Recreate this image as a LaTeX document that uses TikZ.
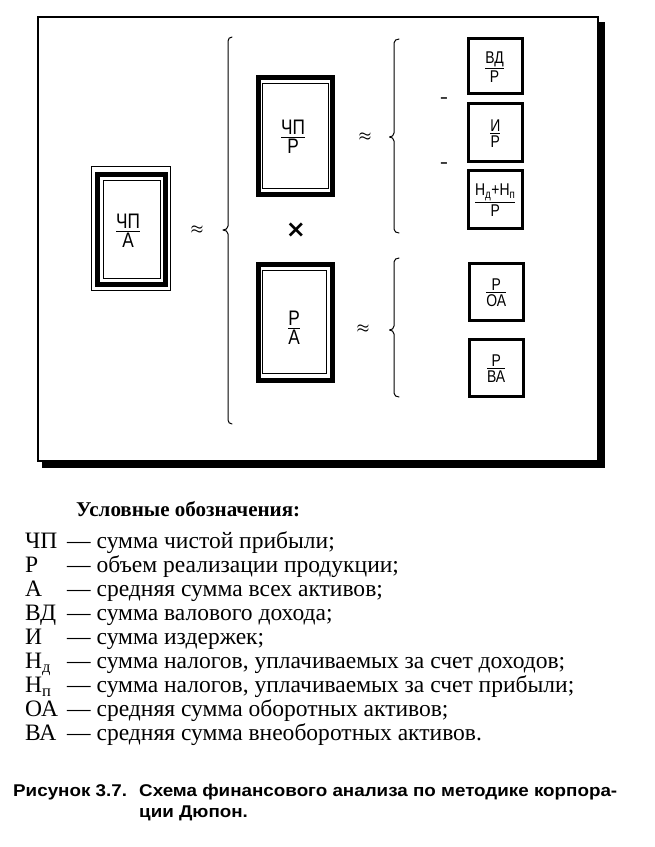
\documentclass[tikz,border=0pt]{standalone}
\usepackage{amsmath}
\usepackage{fontspec}
\usepackage{graphicx}
\setmainfont{Liberation Serif}
\newfontfamily\dfont[FakeStretch=0.82]{Liberation Sans}
\newfontfamily\capfont{Liberation Sans}
\newfontfamily\legfont{Liberation Serif}
\newfontfamily\symfont{DejaVu Sans}
\newlength\lw \newlength\cw \newlength\tw
\newcommand\fr[2]{$\genfrac{}{}{1.4pt}{1}{\mbox{#1}}{\mbox{#2}}$}
\tikzset{
  thinframe/.style={draw, line width=0.9pt},
  thickframe/.style={draw, line width=5pt},
  smallbox/.style={draw, line width=3pt},
  bracepath/.style={line width=1pt, line cap=round, line join=round},
  bigfrac/.style={inner sep=0pt, font=\dfont\fontsize{21}{24}\selectfont},
  smallfrac/.style={inner sep=0pt, font=\dfont\fontsize{17}{20}\selectfont},
  approxsign/.style={inner sep=0pt, font=\fontsize{14}{14}\selectfont},
  minussign/.style={inner sep=0pt, font=\dfont\bfseries\fontsize{15}{15}\selectfont},
  legtxt/.style={anchor=base west, inner sep=0pt, font=\legfont\fontsize{\legsize}{\legsize}\selectfont},
  captxt/.style={anchor=base west, inner sep=0pt, font=\capfont\bfseries\fontsize{17}{20}\selectfont},
}
\begin{document}
\settowidth\lw{\legfont\fontsize{10}{12}\selectfont — сумма налогов, уплачиваемых за счет доходов;}%
\settowidth\tw{\legfont\bfseries\fontsize{10}{12}\selectfont Условные обозначения:}%
\settowidth\cw{\capfont\bfseries\fontsize{17}{20}\selectfont Схема финансового анализа по методике корпора-}%
\pgfmathsetmacro\legsize{10*498/\lw}%
\pgfmathsetmacro\titsize{10*224/\tw}%
\pgfmathsetmacro\capsx{478/\cw}%
\begin{tikzpicture}[x=1pt,y=-1pt]
\useasboundingbox (0,0) rectangle (655,847);

% outer frame with shadow
\draw[line width=1.1pt] (38,17) rectangle (598,461);
\fill (597,22) rectangle (605,468);
\fill (42,460) rectangle (605,468);

% main box CHP/A
\draw[thinframe] (91.7,166.7) rectangle (170,290);
\draw[thickframe] (97.5,174.3) rectangle (165.5,284.5);
\draw[thinframe] (103.3,180) rectangle (160.5,278.3);
\node[bigfrac] (chpa) at (128,231) {\fr{ЧП}{А}};

\node[approxsign] (eq1) at (197,230) {$\boldsymbol{\approx}$};

% big brace
\draw[bracepath] (232,37) to[out=180,in=90] (228,41) -- (228,226)
  to[out=-90,in=0] (223,230) to[out=0,in=90] (228,234) -- (228,420)
  to[out=-90,in=180] (232,424);

% box CHP/P
\draw[thickframe] (258,77.5) rectangle (332.5,194.2);
\draw[thinframe] (262.7,83.3) rectangle (328.3,188.3);
\node[bigfrac] (chpp) at (293,137) {\fr{ЧП}{Р}};

\node[inner sep=0pt, font=\symfont\bfseries\fontsize{24}{24}\selectfont] (times) at (296,230) {×};

% box P/A
\draw[thickframe] (258.8,264.2) rectangle (332,380.5);
\draw[thinframe] (262.7,270.7) rectangle (326.7,373.3);
\node[bigfrac] (pa) at (294,328) {\fr{Р}{А}};

\node[approxsign] (eq2) at (365,137) {$\boldsymbol{\approx}$};
\node[approxsign] (eq3) at (363,329) {$\boldsymbol{\approx}$};

% brace 2
\draw[bracepath] (399,39) to[out=180,in=90] (394,43) -- (394,133)
  to[out=-90,in=0] (389.5,137) to[out=0,in=90] (394,141) -- (394,229)
  to[out=-90,in=180] (399,233);
% brace 3
\draw[bracepath] (399,258) to[out=180,in=90] (394,262) -- (394,326)
  to[out=-90,in=0] (389.5,330) to[out=0,in=90] (394,334) -- (394,393)
  to[out=-90,in=180] (399,397);

% small boxes
\draw[smallbox] (468.5,38) rectangle (522,93.3);
\node[smallfrac] (vdp) at (494.5,67) {\fr{ВД}{Р}};
\draw[smallbox] (468.5,103.3) rectangle (522,161.7);
\node[smallfrac] (ip) at (495.3,133.5) {\fr{И}{Р}};
\draw[smallbox] (468.5,170) rectangle (522,228.3);
\node[smallfrac] (np) at (495.3,200) {\fr{Н\textsubscript{д}+Н\textsubscript{п}}{Р}};
\draw[smallbox] (469,263.3) rectangle (523.3,320);
\node[smallfrac] (poa) at (496.2,292.5) {\fr{Р}{ОА}};
\draw[smallbox] (469,339.3) rectangle (523.3,396.7);
\node[smallfrac] (pva) at (496.2,368.5) {\fr{Р}{ВА}};

\node[minussign] (m1) at (444,100) {–};
\node[minussign] (m2) at (444,165) {–};

% legend
\node[anchor=base west, inner sep=0pt, font=\legfont\bfseries\fontsize{\titsize}{\titsize}\selectfont] (title) at (76,516) {Условные обозначения:};
\foreach \lab/\txt [count=\i from 0] in {
  ЧП/{— сумма чистой прибыли;},
  Р/{— объем реализации продукции;},
  А/{— средняя сумма всех активов;},
  ВД/{— сумма валового дохода;},
  И/{— сумма издержек;},
  {Н\textsubscript{д}}/{— сумма налогов, уплачиваемых за счет доходов;},
  {Н\textsubscript{п}}/{— сумма налогов, уплачиваемых за счет прибыли;},
  ОА/{— средняя сумма оборотных активов;},
  ВА/{— средняя сумма внеоборотных активов.}} {
  \node[legtxt] (lab\i) at (25,548+24.1*\i) {\lab};
  \node[legtxt] (txt\i) at (67,548+24.1*\i) {\txt};
}

% caption
\node[captxt] (cap1) at (13,796) {\scalebox{\capsx}[1]{Рисунок 3.7.}};
\node[captxt] (cap2) at (139,796) {\scalebox{\capsx}[1]{Схема финансового анализа по методике корпора-}};
\node[captxt] (cap3) at (139,817) {\scalebox{\capsx}[1]{ции Дюпон.}};
\end{tikzpicture}
\end{document}
